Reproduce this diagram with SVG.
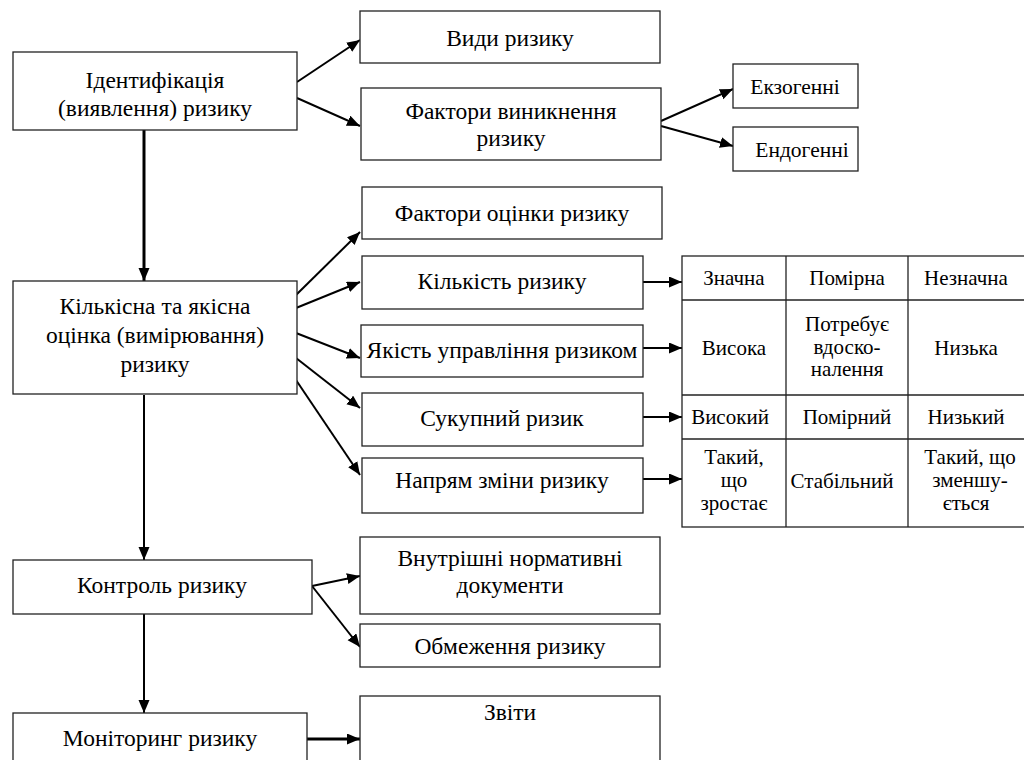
<svg xmlns="http://www.w3.org/2000/svg" width="1024" height="760" viewBox="0 0 1024 760" font-family="Liberation Serif, DejaVu Serif, serif">
<style>
text{fill:#000;text-anchor:middle}
.t{font-size:23.5px}
.ts{font-size:21.5px}
.tc{font-size:21px}
.box{fill:#fff;stroke:#222;stroke-width:1.3}
.ln{fill:none;stroke:#000;stroke-width:2}
.lnb{fill:none;stroke:#000;stroke-width:3}
.grid{fill:none;stroke:#222;stroke-width:1.3}
</style>
<defs>
<marker id="ah" markerUnits="userSpaceOnUse" markerWidth="14" markerHeight="12" refX="13" refY="5.5" orient="auto">
<path d="M0,0 L13,5.5 L0,11 z" fill="#000"/>
</marker>
</defs>
<rect width="1024" height="760" fill="#fff"/>
<g id="connectors">
<line class="lnb" x1="144" y1="130" x2="144" y2="281" marker-end="url(#ah)"/>
<line class="ln" x1="144" y1="395" x2="144" y2="560" marker-end="url(#ah)"/>
<line class="ln" x1="144" y1="614" x2="144" y2="713" marker-end="url(#ah)"/>
<line class="ln" x1="297" y1="82" x2="360" y2="40" marker-end="url(#ah)"/>
<line class="ln" x1="297" y1="98" x2="360" y2="126" marker-end="url(#ah)"/>
<line class="ln" x1="661" y1="121" x2="733" y2="89" marker-end="url(#ah)"/>
<line class="ln" x1="661" y1="126" x2="733" y2="146" marker-end="url(#ah)"/>
<line class="ln" x1="296" y1="295" x2="360" y2="232" marker-end="url(#ah)"/>
<line class="ln" x1="296" y1="308" x2="360" y2="282" marker-end="url(#ah)"/>
<line class="ln" x1="296" y1="333" x2="360" y2="358" marker-end="url(#ah)"/>
<line class="ln" x1="296" y1="358" x2="360" y2="408" marker-end="url(#ah)"/>
<line class="ln" x1="296" y1="380" x2="360" y2="475" marker-end="url(#ah)"/>
<line class="ln" x1="643" y1="282" x2="682" y2="282" marker-end="url(#ah)"/>
<line class="ln" x1="643" y1="348" x2="682" y2="348" marker-end="url(#ah)"/>
<line class="ln" x1="643" y1="417" x2="682" y2="417" marker-end="url(#ah)"/>
<line class="ln" x1="643" y1="479" x2="682" y2="479" marker-end="url(#ah)"/>
<line class="ln" x1="312" y1="586" x2="360" y2="576" marker-end="url(#ah)"/>
<line class="ln" x1="312" y1="586" x2="360" y2="647" marker-end="url(#ah)"/>
<line class="lnb" x1="307" y1="739" x2="360" y2="739" marker-end="url(#ah)"/>
</g>
<g id="identification">
<rect class="box" x="13" y="52" width="284" height="78"/>
<text class="t" x="155" y="88">Ідентифікація</text>
<text class="t" x="155" y="116">(виявлення) ризику</text>
</g>
<g id="vydy">
<rect class="box" x="360" y="11" width="300" height="52"/>
<text class="t" x="510" y="46">Види ризику</text>
</g>
<g id="faktory-vynyknennia">
<rect class="box" x="361" y="88" width="300" height="72"/>
<text class="t" x="511" y="119">Фактори виникнення</text>
<text class="t" x="511" y="146">ризику</text>
</g>
<g id="ekzohenni">
<rect class="box" x="733" y="64" width="125" height="44"/>
<text class="ts" x="795" y="94">Екзогенні</text>
</g>
<g id="endohenni">
<rect class="box" x="733" y="127" width="125" height="44"/>
<text class="ts" x="802" y="157">Ендогенні</text>
</g>
<g id="kilkisna">
<rect class="box" x="13" y="281" width="284" height="113"/>
<text class="t" x="155" y="314">Кількісна та якісна</text>
<text class="t" x="155" y="343">оцінка (вимірювання)</text>
<text class="t" x="155" y="372">ризику</text>
</g>
<g id="faktory-otsinky">
<rect class="box" x="362" y="187" width="300" height="52"/>
<text class="t" x="512" y="221">Фактори оцінки ризику</text>
</g>
<g id="kilkist">
<rect class="box" x="362" y="256" width="281" height="53"/>
<text class="t" x="502" y="289">Кількість ризику</text>
</g>
<g id="yakist">
<rect class="box" x="361" y="325" width="282" height="52"/>
<text class="t" x="502" y="358">Якість управління ризиком</text>
</g>
<g id="sukupnyi">
<rect class="box" x="362" y="393" width="281" height="53"/>
<text class="t" x="502" y="426">Сукупний ризик</text>
</g>
<g id="napriam">
<rect class="box" x="362" y="458" width="281" height="55"/>
<text class="t" x="502" y="488">Напрям зміни ризику</text>
</g>
<g id="table">
<rect class="grid" x="682" y="256" width="345" height="271"/>
<line class="grid" x1="786" y1="256" x2="786" y2="527"/>
<line class="grid" x1="908" y1="256" x2="908" y2="527"/>
<line class="grid" x1="682" y1="300" x2="1027" y2="300"/>
<line class="grid" x1="682" y1="395" x2="1027" y2="395"/>
<line class="grid" x1="682" y1="439" x2="1027" y2="439"/>
<text class="tc" x="734" y="285">Значна</text>
<text class="tc" x="847" y="285">Помірна</text>
<text class="tc" x="966" y="285">Незначна</text>
<text class="tc" x="734" y="355">Висока</text>
<text class="tc" x="847" y="331">Потребує</text>
<text class="tc" x="847" y="354">вдоско-</text>
<text class="tc" x="847" y="376">налення</text>
<text class="tc" x="966" y="355">Низька</text>
<text class="tc" x="730" y="424">Високий</text>
<text class="tc" x="847" y="424">Помірний</text>
<text class="tc" x="966" y="424">Низький</text>
<text class="tc" x="734" y="464">Такий,</text>
<text class="tc" x="734" y="487">що</text>
<text class="tc" x="734" y="510">зростає</text>
<text class="tc" x="842" y="488">Стабільний</text>
<text class="tc" x="970" y="464">Такий, що</text>
<text class="tc" x="970" y="487">зменшу-</text>
<text class="tc" x="966" y="510">ється</text>
</g>
<g id="kontrol">
<rect class="box" x="13" y="560" width="299" height="54"/>
<text class="t" x="162" y="593">Контроль ризику</text>
</g>
<g id="vnutrishni">
<rect class="box" x="360" y="537" width="300" height="77"/>
<text class="t" x="510" y="566">Внутрішні нормативні</text>
<text class="t" x="510" y="593">документи</text>
</g>
<g id="obmezhennia">
<rect class="box" x="360" y="624" width="300" height="43"/>
<text class="t" x="510" y="654">Обмеження ризику</text>
</g>
<g id="monitorynh">
<rect class="box" x="13" y="713" width="294" height="60"/>
<text class="t" x="160" y="746">Моніторинг ризику</text>
</g>
<g id="zvity">
<rect class="box" x="360" y="696" width="300" height="80"/>
<text class="t" x="510" y="720">Звіти</text>
</g>
</svg>
